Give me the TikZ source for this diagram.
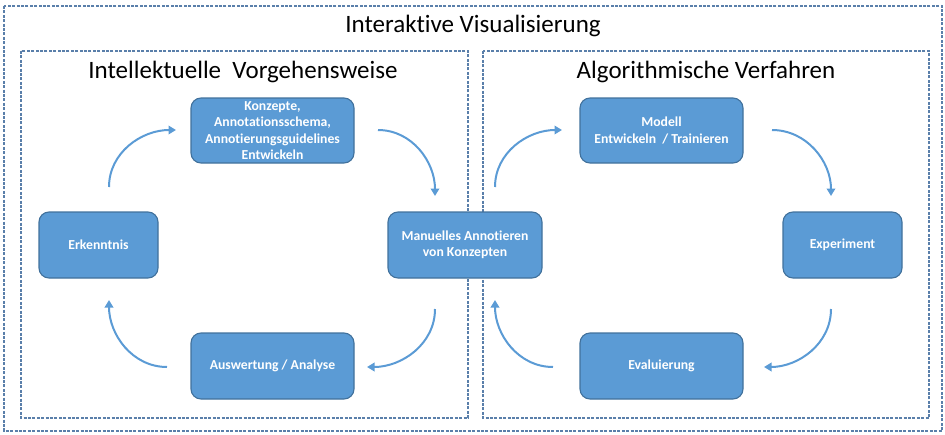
\documentclass[tikz,border=0pt]{standalone}
\usepackage{fontspec}
\setmainfont{Carlito}[Ligatures=NoCommon]
\usetikzlibrary{arrows.meta}
\definecolor{boxfill}{HTML}{5B9BD5}
\definecolor{boxline}{HTML}{41719C}
\definecolor{dashc}{HTML}{5A7FAA}
\definecolor{arrc}{HTML}{5B9BD5}
\tikzset{
  proc/.style={draw=boxline, line width=1.1pt, fill=boxfill, rounded corners=10pt,
    text=white, font=\bfseries\fontsize{13.7}{16.3}\selectfont, align=center,
    minimum height=66pt, inner sep=2pt},
  frame/.style={draw=dashc, line width=1.3pt, dash pattern=on 3pt off 1.4pt},
  flow/.style={draw=arrc, line width=2pt, -{Triangle[length=7.5pt,width=8.5pt]}},
  heading/.style={font=\fontsize{25}{30}\selectfont, anchor=center}
}
\begin{document}
\begin{tikzpicture}[x=1pt,y=-1pt]
\useasboundingbox (0,0) rectangle (945,434);
\draw[frame] (4,6) rectangle (942,431);
\draw[frame] (21,51) rectangle (468,418);
\draw[frame] (483,51) rectangle (929,418);
\node[heading] (t0) at (473,26) {Interaktive Visualisierung};
\node[heading] (t1) at (243,72) {Intellektuelle\ \ Vorgehensweise};
\node[heading] (t2) at (706,72) {Algorithmische Verfahren};

\node[proc, minimum width=163pt, minimum height=65pt] (konz) at (272.5,130.5) {Konzepte,\\Annotationsschema,\\Annotierungsguidelines\\Entwickeln};
\node[proc, minimum width=119pt] (erk) at (98.5,245) {Erkenntnis};
\node[proc, minimum width=154pt] (man) at (465,245) {Manuelles Annotieren\\von Konzepten};
\node[proc, minimum width=163pt] (ausw) at (272.5,366) {Auswertung / Analyse};
\node[proc, minimum width=163pt, minimum height=65pt] (mod) at (661.5,130.5) {Modell\\Entwickeln\ \ / Trainieren};
\node[proc, minimum width=119pt] (exp) at (842.5,245) {Experiment};
\node[proc, minimum width=163pt] (eval) at (661.5,366) {Evaluierung};

\coordinate (a1s) at (109,187); \coordinate (a1e) at (176,130);
\coordinate (a2s) at (378,130); \coordinate (a2e) at (435,196);
\coordinate (a3s) at (435,309); \coordinate (a3e) at (367,367);
\coordinate (a4s) at (167,367); \coordinate (a4e) at (109,300);
\coordinate (b1s) at (495,187); \coordinate (b1e) at (562,130);
\coordinate (b2s) at (772,130); \coordinate (b2e) at (831,196);
\coordinate (b3s) at (831,309); \coordinate (b3e) at (764,367);
\coordinate (b4s) at (553,367); \coordinate (b4e) at (495,300);

\draw[flow] (a1s) to[out=90,in=180] (a1e);
\draw[flow] (a2s) to[out=0,in=90] (a2e);
\draw[flow] (a3s) to[out=-90,in=0] (a3e);
\draw[flow] (a4s) to[out=180,in=-90] (a4e);
\draw[flow] (b1s) to[out=90,in=180] (b1e);
\draw[flow] (b2s) to[out=0,in=90] (b2e);
\draw[flow] (b3s) to[out=-90,in=0] (b3e);
\draw[flow] (b4s) to[out=180,in=-90] (b4e);
\end{tikzpicture}
\end{document}
